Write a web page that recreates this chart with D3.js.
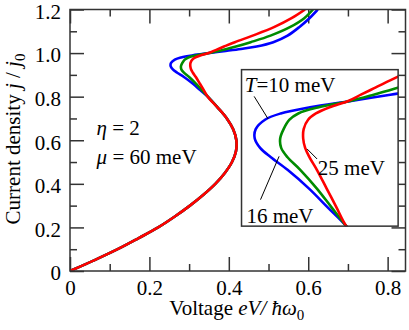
<!DOCTYPE html>
<html>
<head>
<meta charset="utf-8">
<script src="https://cdn.jsdelivr.net/npm/d3@7"></script>
<style>
body { margin: 0; background: #fff; }
</style>
</head>
<body>
<div id="chart"></div>
<script>
// current density j/j0 (shared lower branch, all T coincide here)
const jLow = [0, 0.05, 0.1, 0.15, 0.2, 0.25, 0.3, 0.35, 0.4, 0.45, 0.5, 0.55, 0.6, 0.65, 0.7, 0.75]
const vLow = [0, 0.062, 0.12, 0.172, 0.222, 0.264, 0.302, 0.336, 0.366, 0.39, 0.408, 0.418, 0.419, 0.411, 0.395, 0.372]
// upper part, one voltage list per temperature
const jHigh = [0.8, 0.83, 0.86, 0.89, 0.91, 0.925, 0.94, 0.955, 0.97, 0.98, 0.99, 1.0, 1.01, 1.02, 1.03, 1.05, 1.08, 1.12, 1.16, 1.2]
const vT10 = [0.347, 0.328, 0.309, 0.287, 0.27, 0.259, 0.2535, 0.2545, 0.264, 0.28, 0.31, 0.352, 0.392, 0.435, 0.47, 0.512, 0.548, 0.578, 0.603, 0.624]
const vT16 = [0.347, 0.332, 0.317, 0.3, 0.287, 0.2805, 0.2795, 0.283, 0.289, 0.298, 0.319, 0.351, 0.375, 0.397, 0.418, 0.455, 0.505, 0.555, 0.59, 0.612]
const vT25 = [0.347, 0.337, 0.327, 0.317, 0.3095, 0.305, 0.303, 0.3035, 0.308, 0.316, 0.33, 0.349, 0.362, 0.375, 0.388, 0.415, 0.46, 0.515, 0.558, 0.592]
const temps = ['T=10 meV', '16 meV', '25 meV']
const colors = ['#0000ff', '#008c00', '#ff0000']

const xMajor = [0, 0.2, 0.4, 0.6, 0.8]
const xMinor = [0.1, 0.3, 0.5, 0.7]
const yMajor = [0, 0.2, 0.4, 0.6, 0.8, 1.0, 1.2]
const yMinor = [0.1, 0.3, 0.5, 0.7, 0.9, 1.1]

const series = [vT10, vT16, vT25].map(vs =>
  jLow.map((j, i) => [vLow[i], j]).concat(jHigh.map((j, i) => [vs[i], j])))

const W = 409, H = 330
const margin = {top: 9.5, right: 3.5, bottom: 59, left: 70}
const width = W - margin.left - margin.right
const height = H - margin.top - margin.bottom
const FONT = "'Liberation Serif', 'Times New Roman', serif"

const x = d3.scaleLinear().domain([0, 0.845]).range([0, width])
const y = d3.scaleLinear().domain([0, 1.2]).range([height, 0])

const svg = d3.select('#chart').append('svg')
  .attr('width', W)
  .attr('height', H)
const g = svg.append('g').attr('transform', `translate(${margin.left},${margin.top})`)

const fmt = d => d === 0 ? '0' : d.toFixed(1)
const frame = '#333'

function axes(el, sx, sy, w, h) {
  const defs = [
    [d3.axisBottom(sx), `translate(0,${h})`, xMajor, xMinor, true, '0.71em'],
    [d3.axisTop(sx), null, xMajor, xMinor, false, null],
    [d3.axisLeft(sy), null, yMajor, yMinor, true, '0.42em'],
    [d3.axisRight(sy), `translate(${w},0)`, yMajor, yMinor, false, null]
  ]
  defs.forEach(([ax, tr, maj, min, lab, dy]) => {
    const a = el.append('g').attr('transform', tr)
      .call(ax.tickValues(min).tickSizeInner(-7).tickSizeOuter(0).tickFormat(''))
    const b = el.append('g').attr('transform', tr)
      .call(ax.tickValues(maj).tickSizeInner(-14).tickSizeOuter(0).tickPadding(lab ? 9 : 0).tickFormat(lab ? fmt : ''))
    ;[a, b].forEach(s => {
      s.attr('font-family', null).attr('font-size', null)
      s.select('.domain').remove()
      s.selectAll('line').attr('stroke', frame).attr('stroke-width', 1.5)
      s.selectAll('text').attr('fill', '#000').attr('dy', dy)
    })
  })
}

axes(g, x, y, width, height)

const line = d3.line()
  .x(d => x(d[0]))
  .y(d => y(d[1]))
  .curve(d3.curveCatmullRom.alpha(0.5))

g.append('clipPath').attr('id', 'clipMain')
  .append('rect').attr('width', width).attr('height', height)

g.append('g').attr('clip-path', 'url(#clipMain)')
  .selectAll('path')
  .data(series)
  .join('path')
    .attr('d', line)
    .attr('fill', 'none')
    .attr('stroke', (d, i) => colors[i])
    .attr('stroke-width', 2.6)

g.append('rect')
  .attr('width', width)
  .attr('height', height)
  .attr('fill', 'none')
  .attr('stroke', frame)
  .attr('stroke-width', 1.5)

// parameters
const ann = g.append('g')
ann.append('text').attr('x', x(0.067)).attr('y', y(0.626))
  .call(t => {
    t.append('tspan').attr('font-style', 'italic').text('η')
    t.append('tspan').text(' = 2')
  })
ann.append('text').attr('x', x(0.067)).attr('y', y(0.49))
  .call(t => {
    t.append('tspan').attr('font-style', 'italic').text('μ')
    t.append('tspan').text(' = 60 meV')
  })

// axis titles
svg.append('text')
  .attr('transform', `translate(20,139) rotate(-90)`)
  .attr('text-anchor', 'middle')
  .call(t => {
    t.append('tspan').text('Current density ')
    t.append('tspan').attr('font-style', 'italic').text('j')
    t.append('tspan').text(' / ')
    t.append('tspan').attr('font-style', 'italic').text('j')
    t.append('tspan').attr('class', 'sub').attr('dy', 5).text('0')
  })

svg.append('text')
  .attr('x', margin.left + x(0.42))
  .attr('y', 315)
  .attr('text-anchor', 'middle')
  .call(t => {
    t.append('tspan').text('Voltage ')
    t.append('tspan').attr('font-style', 'italic').text('eV/ ħω')
    t.append('tspan').attr('class', 'sub').attr('dy', 5).text('0')
  })

// inset
const ix = d3.scaleLinear().domain([0.24, 0.40]).range([0, 156.6])
const iy = d3.scaleLinear().domain([0.80, 1.05]).range([156.5, 0])
const inset = g.append('g').attr('transform', `translate(${x(0.432)},${y(0.924)})`)

inset.append('rect')
  .attr('width', 156.6).attr('height', 156.5)
  .attr('fill', '#fff')

inset.append('clipPath').attr('id', 'clipInset')
  .append('rect').attr('width', 156.6).attr('height', 156.5)

const iline = d3.line()
  .x(d => ix(d[0]))
  .y(d => iy(d[1]))
  .curve(d3.curveCatmullRom.alpha(0.5))

inset.append('g').attr('clip-path', 'url(#clipInset)')
  .selectAll('path')
  .data(series)
  .join('path')
    .attr('d', iline)
    .attr('fill', 'none')
    .attr('stroke', (d, i) => colors[i])
    .attr('stroke-width', 2.6)

inset.append('rect')
  .attr('width', 156.6).attr('height', 156.5)
  .attr('fill', 'none')
  .attr('stroke', frame)
  .attr('stroke-width', 1.5)

// labels and leader lines, in inset data units
const labelPos = [[0.2434, 1.015], [0.245, 0.805], [0.318, 0.882]]
const leaders = [
  [[0.2529, 1.0073], [0.2672, 0.9712]],
  [[0.2594, 0.8423], [0.2784, 0.9115]],
  [[0.307, 0.9233], [0.3172, 0.9073]]
]

inset.selectAll('line.leader')
  .data(leaders)
  .join('line')
    .attr('class', 'leader')
    .attr('x1', d => ix(d[0][0])).attr('y1', d => iy(d[0][1]))
    .attr('x2', d => ix(d[1][0])).attr('y2', d => iy(d[1][1]))
    .attr('stroke', '#000')
    .attr('stroke-width', 1)

inset.selectAll('text.lab')
  .data(temps)
  .join('text')
    .attr('class', 'lab')
    .attr('x', (d, i) => ix(labelPos[i][0]))
    .attr('y', (d, i) => iy(labelPos[i][1]))
    .each(function (d) {
      const t = d3.select(this)
      if (d.startsWith('T=')) {
        t.append('tspan').attr('font-style', 'italic').text('T')
        t.append('tspan').text(d.slice(1))
      } else {
        t.text(d)
      }
    })

// one serif face for every text
svg.selectAll('text').style('font-family', FONT).style('font-size', '21px')
svg.selectAll('tspan').style('font-family', FONT)
svg.selectAll('tspan.sub').style('font-size', '15px')
</script>
</body>
</html>
